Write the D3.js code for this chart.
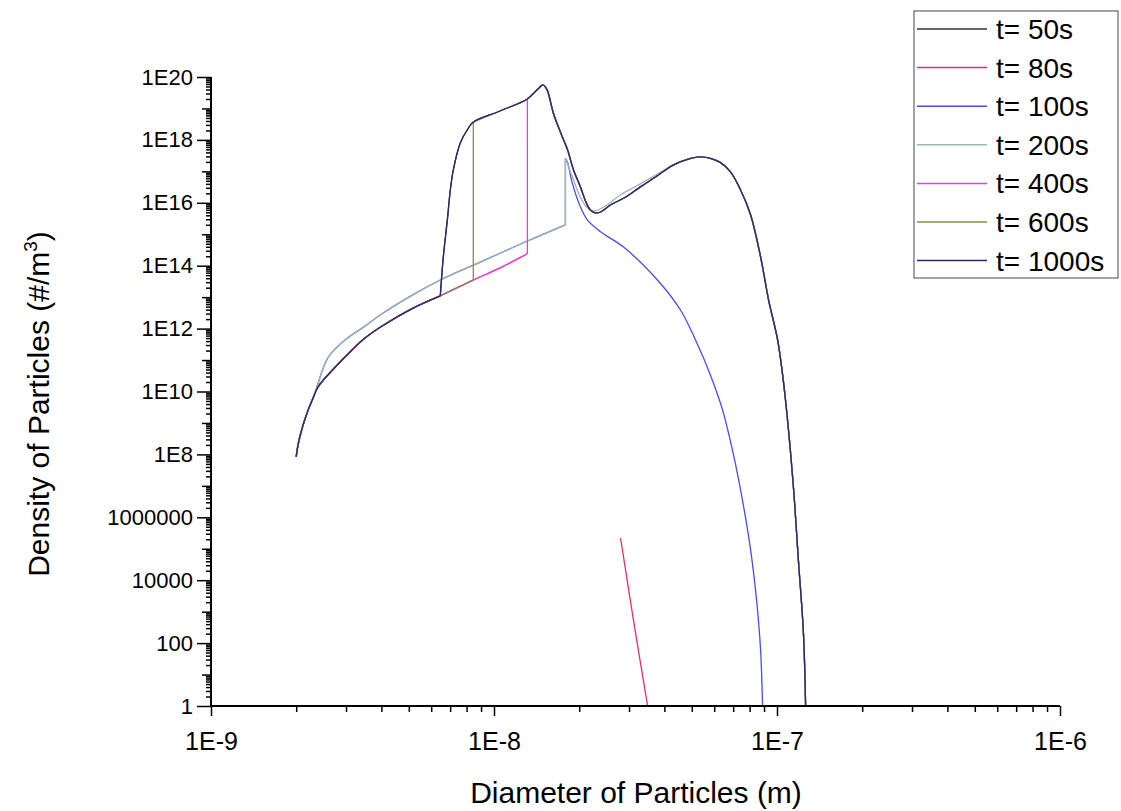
<!DOCTYPE html>
<html>
<head>
<meta charset="utf-8">
<script src="https://cdn.jsdelivr.net/npm/d3@7"></script>
<style>
  body { margin: 0; background: #fff; }
  text { font-family: "Liberation Sans", Arial, sans-serif; fill: #000; }
</style>
</head>
<body>
<svg id="chart" width="1121" height="811"></svg>
<script>
// ---- labels and colours ----
const seriesLabels = ["t= 50s", "t= 80s", "t= 100s", "t= 200s", "t= 400s", "t= 600s", "t= 1000s"];
const seriesColors = ["#333333", "#e0306a", "#4b4bf0", "#9db8b0", "#e040e0", "#8c8c4a", "#2a2a70"];
const xTickLabels = ["1E-9", "1E-8", "1E-7", "1E-6"];
const yTickLabels = ["1", "100", "10000", "1000000", "1E8", "1E10", "1E12", "1E14", "1E16", "1E18", "1E20"];

// ---- curve pieces: [diameter (m), density (#/m^3)] ----
// small-particle tail shared by the early branch
const lowerTail = [
  [2.00e-9, 8.3e7], [2.03e-9, 2.0e8], [2.10e-9, 6.9e8], [2.19e-9, 2.2e9],
  [2.28e-9, 5.4e9], [2.39e-9, 1.4e10], [2.75e-9, 6.0e10], [3.15e-9, 2.1e11],
  [3.50e-9, 5.0e11], [3.96e-9, 1.1e12], [5.18e-9, 4.5e12], [6.46e-9, 1.1e13],
  [8.45e-9, 3.5e13], [1.05e-8, 8.5e13], [1.312e-8, 2.4e14]
];
// upper branch of the tail (t = 100 s, 200 s)
const upperTail = [
  [2.39e-9, 1.8e10], [2.47e-9, 4.5e10], [2.59e-9, 1.2e11], [2.98e-9, 4.4e11],
  [3.50e-9, 1.2e12], [3.96e-9, 2.7e12], [5.18e-9, 1.2e13], [6.46e-9, 3.5e13],
  [8.94e-9, 1.3e14], [1.312e-8, 6.1e14], [1.788e-8, 2.0e15]
];
const spikeTop = [1.788e-8, 2.6e17];
// steep front of the t = 50 s / 1000 s curves
const steepRise = [
  [6.62e-9, 1.9e14], [6.84e-9, 2.8e15], [7.01e-9, 2.6e16], [7.18e-9, 1.1e17],
  [7.60e-9, 8.0e17], [8.05e-9, 2.1e18]
];
// ridge and main peak
const ridge = [
  [8.45e-9, 3.7e18], [1.05e-8, 8.3e18], [1.312e-8, 2.0e19], [1.42e-8, 3.9e19],
  [1.49e-8, 5.6e19], [1.54e-8, 3.9e19], [1.62e-8, 7.2e18], [1.72e-8, 1.7e18],
  [1.82e-8, 4.8e17], [1.91e-8, 1.1e17], [2.02e-8, 3.2e16], [2.12e-8, 9.8e15],
  [2.19e-8, 5.9e15], [2.28e-8, 4.8e15], [2.38e-8, 5.1e15]
];
// second mode
const hump = [
  [2.58e-8, 8.5e15], [2.91e-8, 1.5e16], [3.29e-8, 3.2e16], [3.72e-8, 6.6e16],
  [4.31e-8, 1.6e17], [4.95e-8, 2.6e17], [5.37e-8, 2.9e17], [5.82e-8, 2.6e17],
  [6.32e-8, 1.9e17], [6.86e-8, 9.5e16], [7.43e-8, 2.6e16], [8.07e-8, 4.1e15],
  [8.75e-8, 1.9e14], [9.34e-8, 8.1e12], [1.005e-7, 4.4e11], [1.047e-7, 3.3e10],
  [1.09e-7, 1.2e9], [1.145e-7, 7.4e6], [1.19e-7, 4.4e4], [1.24e-7, 2.1e2],
  [1.262e-7, 1]
];
// t = 200 s falling edge joining the second mode
const grayDescent = [
  [1.91e-8, 5.3e16], [2.02e-8, 1.5e16], [2.14e-8, 6.8e15], [2.25e-8, 5.5e15],
  [2.48e-8, 7.9e15], [2.80e-8, 1.8e16], [3.29e-8, 4.0e16], [3.88e-8, 9.5e16],
  [4.56e-8, 2.0e17]
];
// t = 100 s falling edge
const blueDescent = [
  [1.82e-8, 1.9e17], [1.89e-8, 4.3e16], [2.02e-8, 7.4e15], [2.14e-8, 2.8e15],
  [2.38e-8, 1.2e15], [2.87e-8, 3.9e14], [3.78e-8, 3.5e13], [4.56e-8, 3.9e12],
  [5.15e-8, 4.4e11], [5.82e-8, 3.3e10], [6.42e-8, 2.6e9], [7.02e-8, 9.6e7],
  [7.55e-8, 3.5e6], [8.07e-8, 9.1e4], [8.47e-8, 2.3e3], [8.75e-8, 60],
  [8.89e-8, 1]
];
// t = 80 s remnant
const redTail = [[2.80e-8, 2.2e5], [3.11e-8, 5.4e2], [3.49e-8, 1]];

const upTo = (seg, dMax) => seg.filter(p => p[0] <= dMax * 1.0001);
const from = (seg, dMin) => seg.filter(p => p[0] >= dMin * 0.9999);
// repeat the last point of a piece so the curve turns a sharp corner there
const withCorner = seg => [...seg, seg[seg.length - 1]];

const series = [
  [...withCorner(upTo(lowerTail, 6.46e-9)), ...steepRise, ...ridge, ...hump],
  [...lowerTail, null, ...redTail],
  [...upTo(lowerTail, 2.30e-9), ...upperTail, spikeTop, ...blueDescent],
  [...upTo(lowerTail, 2.30e-9), ...upperTail, spikeTop, ...grayDescent, ...from(hump, 5.37e-8)],
  [...lowerTail, ...from(ridge, 1.312e-8), ...hump],
  [...upTo(lowerTail, 8.45e-9), ...ridge, ...hump],
  [...withCorner(upTo(lowerTail, 6.46e-9)), ...steepRise, ...ridge, ...hump]
];

// ---- layout ----
const svg = d3.select("#chart");
const x = d3.scaleLog().domain([1e-9, 1e-6]).range([211, 1060]);
const y = d3.scaleLog().domain([1, 1e20]).range([706, 77]);

// Split a series into smooth runs; gaps (null) break the curve and
// jumps at a fixed diameter become their own straight two-point run.
function toRuns(points) {
  const runs = [];
  let run = [];
  points.forEach(p => {
    if (p == null) { if (run.length) runs.push(run); run = []; return; }
    const prev = run[run.length - 1];
    if (prev && Math.abs(prev[0] - p[0]) / p[0] < 1e-6) {
      runs.push(run);
      runs.push([prev, p]);
      run = [p];
      return;
    }
    run.push(p);
  });
  if (run.length > 1) runs.push(run);
  return runs.filter(r => r.length > 1);
}

const line = d3.line()
  .x(d => x(d[0]))
  .y(d => y(d[1]))
  .curve(d3.curveCatmullRom.alpha(0.5));

svg.append("g").selectAll("path")
  .data(series)
  .join("path")
  .attr("d", s => toRuns(s).map(r => line(r)).join(""))
  .attr("fill", "none")
  .attr("stroke", (d, i) => seriesColors[i])
  .attr("stroke-width", 1.3)
  .attr("stroke-linejoin", "round");

// x axis
const xDecades = d3.range(-9, -5).map(e => Math.pow(10, e));
const xMinor = [];
for (let e = -9; e < -6; e++) for (let k = 2; k <= 9; k++) xMinor.push(k * Math.pow(10, e));

const xAxisG = svg.append("g").attr("transform", "translate(0,706)");
xAxisG.call(d3.axisBottom(x).tickValues(xMinor).tickSize(6).tickFormat(""));
xAxisG.call(g => g.select(".domain").remove());
const xMajorG = svg.append("g").attr("transform", "translate(0,706)")
  .call(d3.axisBottom(x).tickValues(xDecades).tickSize(10).tickPadding(16)
    .tickFormat((d, i) => xTickLabels[i]));
xMajorG.selectAll("text").attr("font-size", 25).attr("fill", "#000")
  .attr("font-family", "Liberation Sans, Arial, sans-serif");
svg.selectAll(".domain").attr("stroke", "#000");
xMajorG.select(".domain").attr("stroke-width", 2).attr("d", "M211,0H1060");

// y axis
const yLabelled = d3.range(0, 21, 2).map(e => Math.pow(10, e));
const yOdd = d3.range(1, 21, 2).map(e => Math.pow(10, e));
const yMinor = [];
for (let e = 0; e < 20; e++) for (let k = 2; k <= 9; k++) yMinor.push(k * Math.pow(10, e));

const yMinorG = svg.append("g").attr("transform", "translate(211,0)")
  .call(d3.axisLeft(y).tickValues(yMinor).tickSize(5).tickFormat(""));
yMinorG.select(".domain").remove();
const yOddG = svg.append("g").attr("transform", "translate(211,0)")
  .call(d3.axisLeft(y).tickValues(yOdd).tickSize(9).tickFormat(""));
yOddG.select(".domain").remove();
const yMajorG = svg.append("g").attr("transform", "translate(211,0)")
  .call(d3.axisLeft(y).tickValues(yLabelled).tickSize(14).tickPadding(4)
    .tickFormat((d, i) => yTickLabels[i]));
yMajorG.selectAll("text").attr("font-size", 22).attr("fill", "#000")
  .attr("font-family", "Liberation Sans, Arial, sans-serif");
yMajorG.select(".domain").attr("stroke-width", 2).attr("d", "M0,706V77");
svg.selectAll(".tick line").attr("stroke", "#000").attr("stroke-width", 1.5);

// axis titles
svg.append("text")
  .attr("x", 636).attr("y", 803)
  .attr("text-anchor", "middle")
  .attr("font-size", 30)
  .text("Diameter of Particles (m)");

const yTitle = svg.append("text")
  .attr("transform", "translate(49,404) rotate(-90)")
  .attr("text-anchor", "middle")
  .attr("font-size", 30);
yTitle.append("tspan").text("Density of Particles (#/m");
yTitle.append("tspan").attr("font-size", 19).attr("dy", -12).text("3");
yTitle.append("tspan").attr("dy", 12).text(")");

// legend
const legend = svg.append("g");
legend.append("rect")
  .attr("x", 914).attr("y", 11).attr("width", 204).attr("height", 267)
  .attr("fill", "#fff").attr("stroke", "#666").attr("stroke-width", 1.2);
const rows = legend.selectAll("g.row")
  .data(seriesLabels)
  .join("g")
  .attr("class", "row")
  .attr("transform", (d, i) => `translate(0,${29 + i * 38.6})`);
rows.append("line")
  .attr("x1", 917).attr("x2", 987).attr("y1", 0).attr("y2", 0)
  .attr("stroke", (d, i) => seriesColors[i]).attr("stroke-width", 1.5);
rows.append("text")
  .attr("x", 996).attr("y", 10)
  .attr("font-size", 28)
  .text(d => d);
</script>
</body>
</html>
